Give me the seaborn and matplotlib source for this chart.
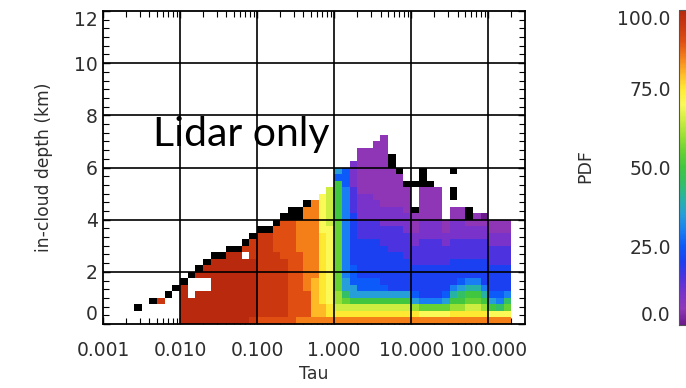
import numpy as np
import pandas as pd
import matplotlib
matplotlib.use("Agg")
import matplotlib.pyplot as plt
from matplotlib.colors import LinearSegmentedColormap
import seaborn as sns

# ---- binning ---------------------------------------------------------------
tau_min_exp = -3          # first tau bin starts at 0.001
tau_bins_per_decade = 10  # 0.1 decade wide bins
tau_max = 300.0           # right edge of the Tau axis
depth_bin_km = 0.25
depth_max_km = 12.0

# ---- PDF for each tau bin, listed from 0 km upward -------------------------
# run-length coded cells: letter a..u = PDF 0..100 in steps of 5,
# '#' = non-zero but below the colour scale (black), '.' = no data
pdf_columns = [
    "", "", "", "",
    ".2 #1",
    "",
    ".3 #1",
    ".3 t1",
    ".4 #1",
    ".5 #1",
    "u6 #1",                                   # tau 0.010
    "u4 .3 #1",
    "u5 .2 u1 #1",
    "u5 .2 u2 #1",
    "u10 #1",
    "u10 #1",
    "u11 #1",
    "u11 #1",
    "u10 .1 t1 #1",
    "t1 u9 t3 #1",
    "s1 t13 #1",                               # tau 0.100
    "s1 t13 #1",
    "s1 t10 s4 #1",
    "s1 t9 s6 #1",
    "s16 #2",
    "r1 s10 r5 #2",
    "r1 s4 r13 #1",
    "r1 q6 r12",
    "r1 q2 p11 o6",
    "r1 p2 o12 n6",
    "r1 p1 n1 m2 l11 k6 f1 h1",                # tau 1.000
    "r1 p1 n1 l1 j1 h2 g14 f3",
    "r1 p1 n1 k1 h2 f3 e8 d4 c4",
    "r1 p1 n1 k1 h1 f2 e6 d3 c4 b7",
    "r1 p1 n1 k1 h1 f2 e6 d3 c4 b7",
    "r1 p1 n1 k1 h1 f2 e6 d3 c3 b9",
    "r1 p1 n1 k1 h1 f1 e6 d3 c3 b11",
    "r1 p1 n1 k1 h1 e6 d4 c3 b6 #2",
    "r1 p1 n1 k1 h1 e6 d4 c3 b5 #1",
    "r1 p1 n1 k1 h1 e5 d4 c3 b4 #1",
    "r1 p1 m1 h1 f1 e4 d3 c2 b3 #1 .3 #1",    # tau 10.000
    "r1 o1 l1 g1 e5 d4 c3 b5 #3",
    "r1 o1 l1 g1 e5 d4 c3 b5 #1",
    "r1 o1 l1 g1 e5 d4 c3 b5",
    "r1 o1 l1 h1 f1 e4 d3 c2 b2",
    "r1 p1 m1 k1 i1 g1 e4 d3 c3 b2 .1 #2 .2 #1",
    "r1 p1 m1 k1 j1 h1 f1 e3 d3 c3 b2",
    "r1 p1 n1 l1 k1 i1 g1 e3 d3 c2 b1 #2",
    "r1 p1 n1 l1 k1 i1 g1 e3 d3 c2 b2",
    "r1 p1 m1 k1 i1 g1 e4 d3 c2 b1 a1",
    "r1 o1 k1 h1 f1 e4 d3 c2 b2",              # tau 100.000
    "r1 o1 j1 g1 f1 e4 d3 c2 b2",
    "r1 o1 l1 j1 g1 e4 d3 c2 b2",
]

tau_ticks = [0.001, 0.01, 0.1, 1.0, 10.0, 100.0]
tau_tick_labels = ["0.001", "0.010", "0.100", "1.000", "10.000", "100.000"]
depth_ticks = [0, 2, 4, 6, 8, 10, 12]
pdf_ticks = [0, 25, 50, 75, 100]

# rainbow colour table (PDF value, RGB)
colour_table = [
    (0, (0.42, 0.10, 0.55)), (5, (0.57, 0.22, 0.73)), (10, (0.47, 0.20, 0.80)),
    (15, (0.30, 0.20, 0.88)), (20, (0.10, 0.25, 0.95)), (25, (0.05, 0.35, 0.98)),
    (30, (0.10, 0.50, 0.95)), (35, (0.15, 0.62, 0.85)), (40, (0.15, 0.70, 0.65)),
    (45, (0.20, 0.75, 0.40)), (50, (0.25, 0.78, 0.25)), (55, (0.40, 0.82, 0.20)),
    (60, (0.60, 0.88, 0.20)), (65, (0.80, 0.93, 0.25)), (70, (0.98, 0.98, 0.35)),
    (75, (1.00, 0.92, 0.20)), (80, (1.00, 0.72, 0.15)), (85, (0.96, 0.50, 0.10)),
    (90, (0.88, 0.31, 0.07)), (95, (0.80, 0.22, 0.06)), (100, (0.72, 0.16, 0.05)),
]


def decode(spec):
    cells = []
    for tok in spec.split():
        code, n = tok[0], int(tok[1:])
        if code == ".":
            v = np.nan
        elif code == "#":
            v = -1.0
        else:
            v = (ord(code) - ord("a")) * 5.0
        cells += [v] * n
    return cells


def tau_to_x(tau):
    return (np.log10(tau) - tau_min_exp) * tau_bins_per_decade


n_rows = int(round(depth_max_km / depth_bin_km))
n_cols = int(np.ceil(tau_to_x(tau_max)))
grid = np.full((n_rows, n_cols), np.nan)
for i, spec in enumerate(pdf_columns):
    cells = decode(spec)
    grid[:len(cells), i] = cells
pdf = pd.DataFrame(grid)

# ---- figure ----------------------------------------------------------------
sns.set_style("white")
plt.rcParams["font.family"] = ["DejaVu Sans"]
text_col = "#2e2e2e"

W, H = 686, 388
fig = plt.figure(figsize=(W / 100, H / 100), dpi=100)
ax = fig.add_axes([103 / W, 1 - 324 / H, 422 / W, 313 / H])
cax = fig.add_axes([679 / W, 1 - 325 / H, 24 / W, 315 / H])

cmap = LinearSegmentedColormap.from_list(
    "pdf_rainbow", [(v / 100.0, c) for v, c in colour_table])
cmap.set_under("black")

sns.heatmap(pdf, ax=ax, cmap=cmap, vmin=0, vmax=100, cbar_ax=cax,
            cbar_kws=dict(ticks=pdf_ticks, format="%.1f"),
            xticklabels=False, yticklabels=False)

ax.set_xlim(0, tau_to_x(tau_max))
ax.set_ylim(0, n_rows)

# grid drawn over the cells
for t in tau_ticks[1:]:
    ax.axvline(tau_to_x(t), color="black", lw=1.2, zorder=3)
for d in depth_ticks[1:-1]:
    ax.axhline(d / depth_bin_km, color="black", lw=1.2, zorder=3)

for s in ax.spines.values():
    s.set_visible(True)
    s.set_color("black")
    s.set_linewidth(1.3)
    s.set_zorder(4)

ax.set_xticks([tau_to_x(t) for t in tau_ticks])
ax.set_xticklabels(tau_tick_labels, rotation=0)
ax.set_yticks([d / depth_bin_km for d in depth_ticks])
ax.set_yticklabels([str(d) for d in depth_ticks], rotation=0)

minor_x = [tau_to_x(k * 10.0 ** e) for e in range(-3, 3) for k in range(2, 10)
           if k * 10.0 ** e < tau_max]
ax.set_xticks(minor_x, minor=True)
ax.set_yticks(np.arange(0, n_rows + 0.01, 4.0 / 3.0), minor=True)

ax.tick_params(which="both", direction="in", top=True, right=True,
               bottom=True, left=True, color="black")
ax.tick_params(which="major", length=5, width=1.0, labelsize=13.5,
               labelcolor=text_col)
ax.tick_params(which="minor", length=4, width=0.8)
ax.tick_params(axis="x", which="major", pad=12)
ax.tick_params(axis="y", which="major", pad=3.6)
ylabels = ax.get_yticklabels()
ylabels[0].set_verticalalignment("bottom")
ylabels[-1].set_verticalalignment("top")

ax.set_xlabel("Tau", fontsize=12.5, labelpad=4, color=text_col)
ax.set_ylabel("in-cloud depth (km)", fontsize=12.3, labelpad=15, color=text_col)

fig.text(153 / W, 1 - 146 / H, "Lidar only", family="Lato", fontsize=29.5,
         color="black", ha="left", va="baseline")

# colour bar with its labels on the left
cbar = ax.collections[0].colorbar
cbar.outline.set_visible(True)
cbar.outline.set_edgecolor("#555555")
cbar.outline.set_linewidth(0.8)
cax.yaxis.set_ticks_position("left")
cax.tick_params(length=0, labelsize=13.5, labelcolor=text_col, pad=6)
clabels = cax.get_yticklabels()
clabels[0].set_verticalalignment("bottom")
clabels[-1].set_verticalalignment("top")
fig.text(585 / W, 1 - 166 / H, "PDF", rotation=90, ha="center", va="center",
         fontsize=12.5, color=text_col)

fig.savefig("out.png", dpi=100)
